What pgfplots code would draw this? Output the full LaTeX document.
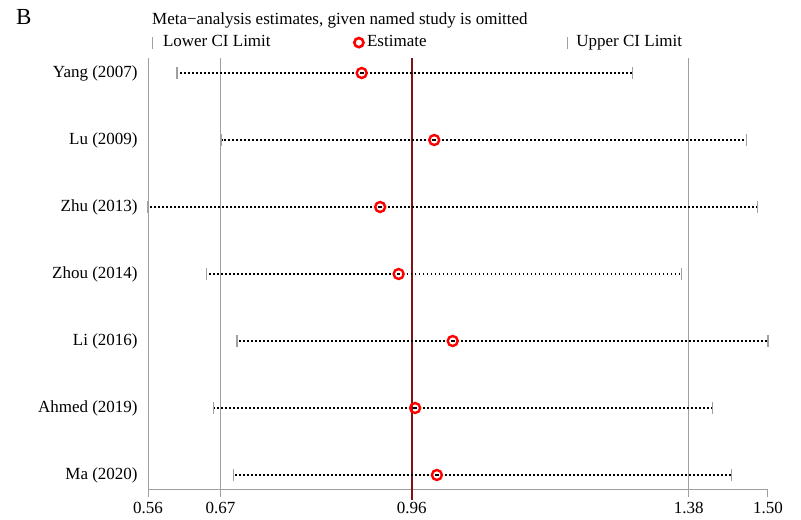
\documentclass[border=0pt]{standalone}
\usepackage{pgfplots}
\pgfplotsset{compat=1.18}
\usepackage{pgfplotstable}
\usepackage{fontspec}
\setmainfont{Liberation Serif}
\definecolor{axgray}{RGB}{160,160,160}
\definecolor{darkred}{RGB}{128,20,20}
\pgfplotstableread{
y lo est hi
7 0.604 0.884 1.295
6 0.672 0.994 1.467
5 0.560 0.912 1.484
4 0.649 0.940 1.369
3 0.695 1.022 1.500
2 0.659 0.965 1.416
1 0.690 0.998 1.445
}\data
\begin{document}
\fontsize{17bp}{20bp}\selectfont
\begin{tikzpicture}
\path[use as bounding box] (0,0) rectangle (801bp,520bp);
\node[anchor=base west, inner sep=0, font=\fontsize{23bp}{27bp}\selectfont] at (16bp,495bp) {B};
\node[anchor=base west, inner sep=0] at (152bp,495bp) {Meta−analysis estimates, given named study is omitted};
\begin{axis}[
  at={(148bp,30bp)}, anchor=south west,
  scale only axis, width=620bp, height=432bp,
  xmin=0.56, xmax=1.50, ymin=0.776, ymax=7.224,
  clip=false,
  axis x line*=bottom, axis y line*=left,
  axis line style={-, axgray, line width=1bp},
  xtick={0.56,0.67,0.96,1.38,1.50},
  xticklabels={0.56,0.67,0.96,1.38,1.50},
  ytick={1,2,3,4,5,6,7},
  yticklabels={Ma (2020),Ahmed (2019),Li (2016),Zhou (2014),Zhu (2013),Lu (2009),Yang (2007)},
  tick align=outside,
  xtick style={axgray, line width=1bp},
  ytick style={draw=none},
  x tick label style={yshift=0.5bp},
  y tick label style={xshift=2.5bp},
  major tick length=7bp,
  /pgf/number format/assume math mode=true,
  tick label style={font=\fontsize{17bp}{20bp}\selectfont},
  legend columns=3,
  legend cell align=left,
  legend style={draw=none, fill=none, at={(0.00645,1.036)}, anchor=west, inner sep=0pt,
     font=\fontsize{17bp}{20bp}\selectfont,
     nodes={inner sep=0pt},
     /tikz/every even column/.append style={column sep=0bp},
     /tikz/every odd column/.append style={column sep=0bp}},
]
% reference lines
\addplot[axgray, line width=1bp, forget plot] coordinates {(0.67,0.776) (0.67,7.224)};
\addplot[axgray, line width=1bp, forget plot] coordinates {(1.38,0.776) (1.38,7.224)};
\addplot[darkred, line width=2.4bp, forget plot] coordinates {(0.96,0.63) (0.96,7.224)};
% CI dotted lines
\addplot[draw=none, mark=none, forget plot,
  error bars/.cd, x dir=both, x explicit, error mark=none,
  error bar style={black, line width=2bp, dash pattern=on 1.8bp off 2.2bp}]
  table[x=est, y=y, x error plus expr=\thisrow{hi}-\thisrow{est}, x error minus expr=\thisrow{est}-\thisrow{lo}] {\data};
% CI limit bars
\addplot[only marks, mark=|, mark size=6bp, axgray, mark options={line width=1.2bp}, forget plot] table[x=lo, y=y] {\data};
\addplot[only marks, mark=|, mark size=6bp, axgray, mark options={line width=1.2bp}, forget plot] table[x=hi, y=y] {\data};
% estimates
\addplot[only marks, mark=o, mark size=5bp, red, mark options={line width=2.4bp}, forget plot] table[x=est, y=y] {\data};
% legend
\addlegendimage{legend image code/.code={\draw[axgray, line width=1.2bp] (0bp,-7bp)--(0bp,5bp); \path (10bp,0bp);}}
\addlegendentry{\makebox[190bp][l]{Lower CI Limit}}
\addlegendimage{legend image code/.code={\draw[red, line width=2.6bp] (5.5bp,-0.5bp) circle (4.6bp); \path (13.5bp,0bp);}}
\addlegendentry{\makebox[199.5bp][l]{Estimate}}
\addlegendimage{legend image code/.code={\draw[axgray, line width=1.2bp] (0bp,-7bp)--(0bp,5bp); \path (9bp,0bp);}}
\addlegendentry{Upper CI Limit}
\end{axis}
\end{tikzpicture}
\end{document}
